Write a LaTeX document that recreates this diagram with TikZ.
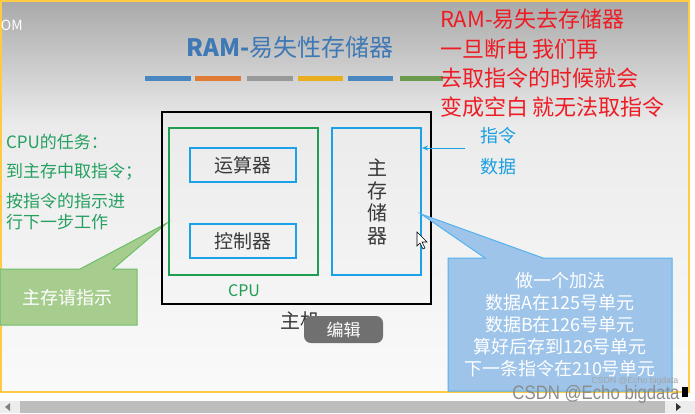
\documentclass[tikz,border=0pt]{standalone}
\usepackage{fontspec}
\setmainfont{Noto Sans CJK SC}
\newfontfamily\wmfont{Liberation Sans}
\usetikzlibrary{arrows.meta}
\definecolor{bgtop}{HTML}{A9A9A9}
\definecolor{bgmid}{HTML}{EBEBEB}
\definecolor{bglow}{HTML}{FAFAFA}
\definecolor{yellowb}{HTML}{FFCB45}
\definecolor{titleblue}{HTML}{3F79B5}
\definecolor{redt}{HTML}{EE1C25}
\definecolor{greent}{HTML}{25A060}
\definecolor{greenbox}{HTML}{1E9E50}
\definecolor{bluebox}{HTML}{1BA1E8}
\definecolor{bluet}{HTML}{1A9FE0}
\definecolor{graytext}{HTML}{3A3A3A}
\definecolor{gcfill}{HTML}{A6CC8E}
\definecolor{gcdraw}{HTML}{6CBF6A}
\definecolor{bcfill}{HTML}{9EC4E9}
\definecolor{bcdraw}{HTML}{55B2EE}
\definecolor{barblue}{HTML}{4A86C0}
\definecolor{barorange}{HTML}{E07B35}
\definecolor{bargray}{HTML}{999999}
\definecolor{baryellow}{HTML}{E8AE1E}
\definecolor{bargreen}{HTML}{6C9A4C}
\definecolor{btn}{HTML}{707070}
\definecolor{track}{HTML}{BDBDBD}
\definecolor{trackbg}{HTML}{EDEDED}
\definecolor{wm}{HTML}{8C8C8C}
\tikzset{
  txt/.style={inner sep=0pt, outer sep=0pt},
  unitbox/.style={draw=bluebox, line width=2pt, minimum width=106pt, minimum height=34pt, text=graytext, font=\fontsize{19}{22}\selectfont},
  bar/.style={line width=5pt},
  redline/.style={txt, anchor=west, text=redt, font=\fontsize{22}{26}\selectfont},
  greenline/.style={txt, anchor=west, text=greent, font=\fontsize{17}{20}\selectfont},
  blueline/.style={txt, anchor=west, text=bluet, font=\fontsize{18}{21}\selectfont},
}
\begin{document}
\begin{tikzpicture}[x=1pt,y=-1pt]
\useasboundingbox (0,0) rectangle (695,413);
% background
\fill[white] (0,0) rectangle (695,413);
\shade[top color=bgtop, bottom color=bgmid] (0,0) rectangle (689,125);
\shade[top color=bgmid, bottom color=bglow] (0,125) rectangle (689,392);
\draw[yellowb, line width=2pt] (1,1) rectangle (689,392);
% scrollbar
\fill[trackbg] (0,401) rectangle (695,413);
\fill[track] (20,401) rectangle (665,413);
\fill[gray] (5,407) -- (10,403) -- (10,411) -- cycle;
\fill[black!80] (681,407) -- (676,403) -- (676,411) -- cycle;
% OM
\node[txt, anchor=west, text=white, font=\fontsize{14}{16}\selectfont] (om) at (1,25) {OM};
% title
\node[txt, text=titleblue, font=\fontsize{24}{28}\selectfont] (title) at (290,47) {{\bfseries RAM-}易失性存储器};
% bars
\draw[bar, barblue] (145,78) -- (191,78);
\draw[bar, barorange] (195,78) -- (241,78);
\draw[bar, bargray] (247,78) -- (293,78);
\draw[bar, baryellow] (298,78) -- (343,78);
\draw[bar, barblue] (348,78) -- (393,78);
\draw[bar, bargreen] (400,78) -- (443,78);
% red text
\node[redline] (r1) at (440,19) {RAM-易失去存储器};
\node[redline] (r2) at (440,49) {一旦断电 我们再};
\node[redline] (r3) at (440,78) {去取指令的时候就会};
\node[redline] (r4) at (440,107) {变成空白 就无法取指令};
% left green text
\node[greenline] (g1) at (6,142) {CPU的任务：};
\node[greenline] (g2) at (6,172) {到主存中取指令；};
\node[greenline] (g3) at (6,201) {按指令的指示进};
\node[greenline] (g4) at (6,222) {行下一步工作};
% green callout
\coordinate (gtip) at (167,223);
\filldraw[fill=gcfill, draw=gcdraw, line width=1pt] (0,269) -- (80,269) -- (gtip) -- (113,269) -- (137,269) -- (137,325) -- (0,325) -- cycle;
\node[txt, text=white, font=\fontsize{18}{21}\selectfont] (gcall) at (67,298) {主存请指示};
% host and boxes
\node[draw=black, line width=2pt, minimum width=269pt, minimum height=192pt] (host) at (296.5,208) {};
\node[draw=greenbox, line width=2pt, minimum width=149pt, minimum height=147pt] (cpu) at (243.5,201.5) {};
\node[unitbox] (alu) at (243,165) {运算器};
\node[unitbox] (ctrl) at (243,241) {控制器};
\node[draw=bluebox, line width=2pt, minimum width=89pt, minimum height=147pt] (mem) at (376.5,201.5) {};
\node[txt, align=center, text=graytext, font=\fontsize{20}{22.4}\selectfont] (memtxt) at (377,202) {主\\存\\储\\器};
\node[txt, text=greenbox, font=\fontsize{16}{19}\selectfont] (cpulbl) at (244,291) {CPU};
\node[txt, text=graytext, font=\fontsize{20}{23}\selectfont] (hostlbl) at (300,321) {主机};
% blue callout
\coordinate (btip) at (421,214);
\filldraw[fill=bcfill, draw=bcdraw, line width=1pt] (448,258) -- (485,258) -- (btip) -- (543,258) -- (672,258) -- (672,391) -- (448,391) -- cycle;
\node[txt, align=center, text=white, font=\fontsize{18}{22}\selectfont] (bcall) at (560,325) {做一个加法\\数据A在125号单元\\数据B在126号单元\\算好后存到126号单元\\下一条指令在210号单元};
% arrow and labels
\coordinate (arrs) at (465,148);
\draw[-{Stealth[length=6pt,width=5pt]}, bluebox, line width=1pt] (arrs) -- (mem.east |- arrs);
\node[blueline] (zl) at (480,136) {指令};
\node[blueline] (sj) at (480,167) {数据};
% edit button
\node[fill=btn, rounded corners=7pt, minimum width=79pt, minimum height=27pt, text=white, font=\fontsize{17}{20}\selectfont, inner sep=0pt] (edit) at (343.5,329.5) {编辑};
% cursor
\filldraw[fill=white, draw=black, line width=0.6pt] (417,232) -- (417,246) -- (420,243) -- (423,249) -- (425,248) -- (422,242) -- (427,242) -- cycle;
% watermarks
\node[txt, text=wm!80, font=\wmfont\fontsize{8.7}{10}\selectfont] (wm1) at (635,381) {CSDN @Echo bigdata};
\node[txt, text=wm, xscale=0.86, font=\wmfont\fontsize{19.5}{22}\selectfont] (wm2) at (596,394) {CSDN @Echo bigdata};
\fill[black] (682,387) rectangle (688,397);
\end{tikzpicture}
\end{document}
